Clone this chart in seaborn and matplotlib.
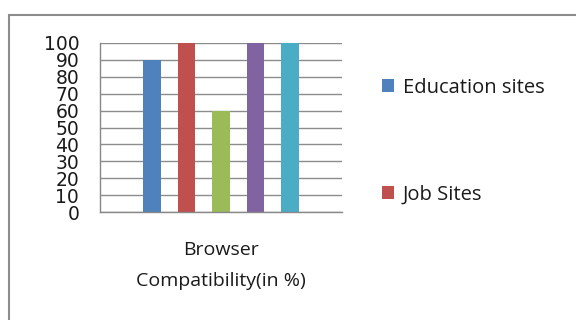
import matplotlib
matplotlib.use("Agg")
import matplotlib.pyplot as plt
import seaborn as sns
import pandas as pd
from matplotlib.patches import Rectangle, Patch

categories = ["Browser\nCompatibility(in %)"]
series = ["Education sites", "Job Sites", "Series3", "Series4", "Series5"]
values = [90, 100, 60, 100, 100]
legend_shown = ["Education sites", "Job Sites"]
colors = ["#4F81BD", "#C0504D", "#9BBB59", "#8064A2", "#4BACC6"]
yticks = list(range(0, 101, 10))

df = pd.DataFrame({"category": categories * len(series), "series": series, "value": values})

sns.set_style("white")
plt.rcParams["font.family"] = ["Open Sans", "DejaVu Sans"]

fig = plt.figure(figsize=(5.76, 3.2), dpi=100)
ax = fig.add_axes([100/576, 1-212/320, 242/576, 169/320])

sns.barplot(data=df, x="category", y="value", hue="series", hue_order=series,
            palette=colors, width=0.713, gap=0.48, ax=ax, legend=False,
            saturation=1, edgecolor="none")

ax.set_xlim(-0.5, 0.5)
ax.set_ylim(0, 100)
ax.set_yticks(yticks)
ax.set_yticklabels([str(t) for t in yticks], fontsize=13.5, family=["DejaVu Sans"])
ax.set_xticks([-0.5, 0.5])
ax.set_xticklabels(["", ""])
ax.tick_params(axis="y", direction="out", length=7, width=1, color="#888888", pad=8, labelcolor="#1a1a1a")
ax.tick_params(axis="x", direction="out", length=6, width=1, color="#888888")
ax.text(0, -0.17, categories[0], transform=ax.get_xaxis_transform(), ha="center", va="top",
        fontsize=14, linespacing=1.95, color="#1a1a1a")
ax.set_xlabel("")
ax.set_ylabel("")
ax.yaxis.grid(True, color="#8c8c8c", linewidth=1)
ax.set_axisbelow(True)
for s in ["top", "right"]:
    ax.spines[s].set_visible(False)
for s in ["left", "bottom"]:
    ax.spines[s].set_color("#888888")
    ax.spines[s].set_linewidth(1)

handles = [Patch(facecolor=colors[series.index(n)], edgecolor="none") for n in legend_shown]
fig.legend(handles, legend_shown, loc="upper left", bbox_to_anchor=(382/576, 1-78/320),
           frameon=False, fontsize=14.5, handlelength=0.62, handleheight=0.62,
           handletextpad=0.4, labelspacing=4.3, borderpad=0, borderaxespad=0,
           labelcolor="#1a1a1a")

fig.patches.append(Rectangle((9/576, -0.1), 1.2, 1-15/320+0.1, transform=fig.transFigure,
                             fill=False, edgecolor="#8c8c8c", linewidth=1.5))

fig.savefig("out.png", dpi=100)
